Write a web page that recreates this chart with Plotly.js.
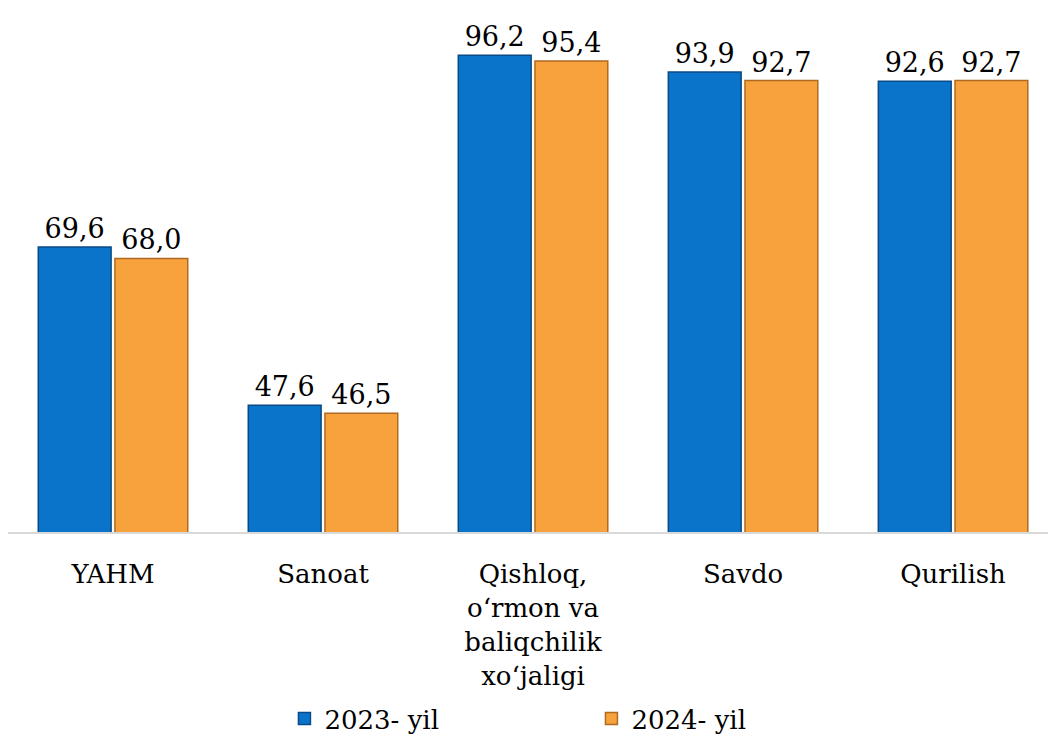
<!DOCTYPE html>
<html>
<head>
<meta charset="utf-8">
<script src="https://cdn.plot.ly/plotly-3.0.1.min.js"></script>
<style>html,body{margin:0;padding:0;background:#fff;}#chart{width:1048px;height:738px;}</style>
</head>
<body>
<div id="chart"></div>
<script>
const categories = ["YAHM", "Sanoat", "Qishloq,<br>o‘rmon va<br>baliqchilik<br>xo‘jaligi", "Savdo", "Qurilish"];
const series2023 = [69.6, 47.6, 96.2, 93.9, 92.6];
const series2024 = [68.0, 46.5, 95.4, 92.7, 92.7];
const seriesNames = ["2023- yil", "2024- yil"];

const fmt = v => v.toFixed(1).replace('.', ',');
const FONT = "DejaVu Serif";

const traces = [
  {
    type: 'bar', name: seriesNames[0], x: categories, y: series2023,
    marker: {color: '#0a74ca', line: {color: '#0a4a85', width: 1.5}},
    text: series2023.map(fmt), textposition: 'outside', cliponaxis: false,
    textfont: {family: FONT, size: 27, color: '#000'}
  },
  {
    type: 'bar', name: seriesNames[1], x: categories, y: series2024,
    marker: {color: '#f7a23c', line: {color: '#b06a22', width: 1.5}},
    text: series2024.map(fmt), textposition: 'outside', cliponaxis: false,
    textfont: {family: FONT, size: 27, color: '#000'}
  }
];

const layout = {
  width: 1048, height: 738,
  margin: {l: 8, r: 0, t: 28, b: 206, autoexpand: false},
  paper_bgcolor: '#fff', plot_bgcolor: '#fff',
  barmode: 'group', bargap: 0.27, bargroupgap: 0.05,
  font: {family: FONT, size: 26, color: '#000'},
  xaxis: {
    range: [-0.5, 4.452], showgrid: false, zeroline: false,
    showline: true, linecolor: '#d9d9d9', linewidth: 2,
    ticks: 'outside', ticklen: 18, tickcolor: 'rgba(0,0,0,0)',
    tickfont: {family: FONT, size: 26, color: '#000'}
  },
  yaxis: {range: [30, 100], visible: false, showgrid: false, zeroline: false},
  showlegend: true,
  legend: {
    orientation: 'h', x: 0.561, xanchor: 'center', y: -0.37, yanchor: 'middle',
    entrywidth: 262, entrywidthmode: 'pixels', itemwidth: 30,
    bgcolor: 'rgba(0,0,0,0)',
    font: {family: FONT, size: 26, color: '#000'}
  }
};

Plotly.newPlot('chart', traces, layout, {displayModeBar: false, staticPlot: true});
</script>
</body>
</html>
